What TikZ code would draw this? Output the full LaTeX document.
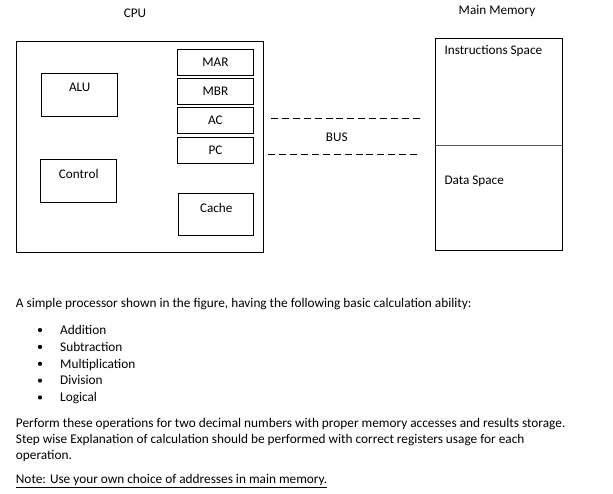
\documentclass[tikz,border=0pt]{standalone}
\usepackage{fontspec}
\setmainfont{Carlito}
\usetikzlibrary{positioning}

% a box of the CPU with its label near the top edge
\newcommand{\cpupart}[6]{%
 \node (#1) [part, minimum width=#4, minimum height=#5] at (#2,#3) {};%
 \node (#1lbl) [lbl] at ([yshift=-14.2pt]#1.north) {#6};%
}
% a register box with a centred label
\newcommand{\register}[4]{%
 \node (#1) [part, minimum width=76pt, minimum height=26pt] at (#2,#3) {#4};%
}

\begin{document}
\begin{tikzpicture}[x=1pt,y=-1pt,
  part/.style={draw,line width=0.9pt,anchor=north west,inner sep=0pt,font=\fontsize{13.2}{15}\selectfont},
  lbl/.style={inner sep=0pt,font=\fontsize{13.2}{15}\selectfont},
  txt/.style={inner sep=0pt,anchor=mid west,font=\fontsize{13.3}{16}\selectfont},
  dot/.style={circle,fill,inner sep=0pt,minimum size=4.2pt},
  bus/.style={line width=0.9pt,dash pattern=on 7pt off 3.9pt}]
 \useasboundingbox (0,0) rectangle (613,493);

 % CPU
 \node (cpulbl) [lbl] at (135,13.5) {CPU};
 \node (cpu) [part, minimum width=246.7pt, minimum height=211.6pt] at (16,40.7) {};
 \cpupart{alu}{41.3}{73.3}{76pt}{43pt}{ALU};
 \cpupart{ctrl}{40.3}{159.3}{76pt}{42.7pt}{Control};
 \register{mar}{177}{49.3}{MAR};
 \register{mbr}{177}{78.3}{MBR};
 \register{ac}{177}{107.3}{AC};
 \register{pc}{177}{137.3}{PC};
 \cpupart{cache}{178.3}{193.3}{75pt}{42pt}{Cache};

 % bus
 \coordinate (bus1a) at (271,118);
 \coordinate (bus1b) at (422.3,118);
 \coordinate (bus2a) at (268.3,154.3);
 \coordinate (bus2b) at (419,154.3);
 \draw [bus] (bus1a) -- (bus1b);
 \draw [bus] (bus2a) -- (bus2b);
 \node (buslbl) [lbl] at (336.7,137.7) {BUS};

 % main memory
 \node (memlbl) [lbl] at (497,11.5) {Main Memory};
 \node (mem) [part, minimum width=127.3pt, minimum height=211.7pt] at (435,38.3) {};
 \coordinate (divl) at (435,145);
 \coordinate (divr) at (562.3,145);
 \draw [line width=0.9pt,black!65] (divl) -- (divr);
 \node (instr) [lbl,anchor=mid west] at (444.3,52) {Instructions Space};
 \node (data) [lbl,anchor=mid west] at (444.3,182) {Data Space};

 % question text
 \node (intro) [txt] at (15.7,305.3) {A simple processor shown in the figure, having the following basic calculation ability:};
 \foreach \op [count=\i] in {Addition,Subtraction,Multiplication,Division,Logical} {
  \node (dot\i) [dot] at (40,{313.2+16.85*\i}) {};
  \node (op\i) [txt] at (60,{315.2+16.85*\i}) {\op};
 }
 \node (line1) [txt] at (15.7,425.5) {Perform these operations for two decimal numbers with proper memory accesses and results storage.};
 \node (line2) [txt] at (15.7,441.5) {Step wise Explanation of calculation should be performed with correct registers usage for each};
 \node (line3) [txt] at (15.7,457.5) {operation.};
 \node (note) [txt] at (15.7,481) {\underline{Note: Use your own choice of addresses in main memory.}};
\end{tikzpicture}
\end{document}
